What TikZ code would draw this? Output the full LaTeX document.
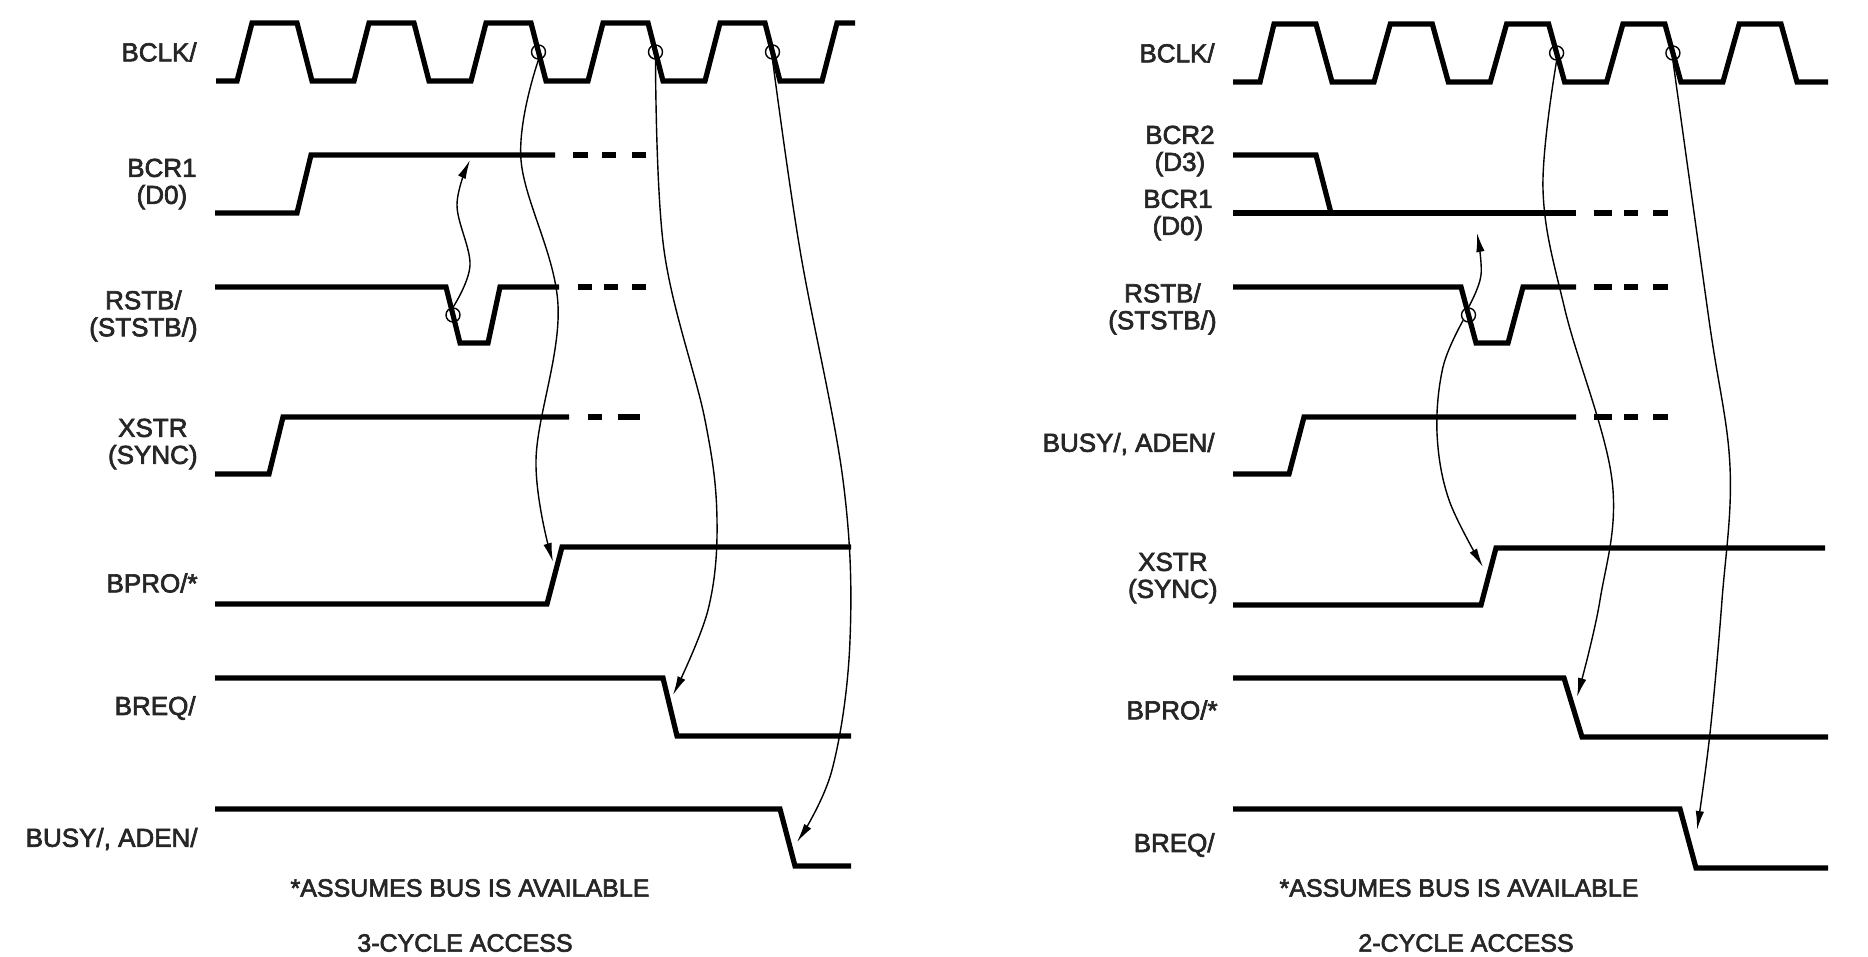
\documentclass[tikz,border=0pt]{standalone}
\usepackage{fontspec}
\newfontfamily\labfont[FakeBold=2.6]{Liberation Sans}
\usetikzlibrary{arrows.meta}
\begin{document}
\begin{tikzpicture}[x=0.5pt,y=-0.5pt,
  sig/.style={line width=2.6pt, line join=miter, line cap=butt},
  arr/.style={line width=0.7pt, -{Latex[length=9.5pt,width=4.2pt]}},
  ring/.style={circle, draw, line width=0.7pt, minimum size=7pt, inner sep=0pt},
  lab/.style={anchor=east, align=center, font=\labfont\fontsize{13}{13.5}\selectfont, text=black!85, inner sep=0pt},
  note/.style={font=\labfont\fontsize{12.5}{14}\selectfont, text=black!85, inner sep=0pt}]
\useasboundingbox (0,0) rectangle (1868,957);

% ---------------- left: 3-cycle access ----------------
\node[lab] (lclk) at (197,52) {BCLK/};
\node[lab] (lbcr) at (197,184) {BCR1\\(D0)};
\node[lab] (lrst) at (198,316) {RSTB/\\(STSTB/)};
\node[lab] (lxst) at (198,444) {XSTR\\(SYNC)};
\node[lab] (lbpr) at (198,583) {BPRO/*};
\node[lab] (lbrq) at (196,708) {BREQ/};
\node[lab] (lbsy) at (198,839) {BUSY/, ADEN/};

\draw[sig] (216,81) -- (237,81) -- (252,23)
  \foreach \k in {0,...,4}{ -- ({252+117*\k+45},23) -- ({252+117*\k+60},81) -- ({252+117*\k+102},81) -- ({252+117*\k+117},23) } -- (855,23);

\draw[sig] (215,213) -- (297,213) -- (311,155) -- (555,155);
\foreach \a/\b in {573/588,602/616,632/646} \draw[sig] (\a,155) -- (\b,155);
\draw[sig] (215,287) -- (446,287) -- (460,343) -- (488,343) -- (500,287) -- (559,287);
\foreach \a/\b in {578/592,604/618,632/646} \draw[sig] (\a,287) -- (\b,287);
\draw[sig] (215,474) -- (269,474) -- (283,417) -- (569,417);
\foreach \a/\b in {588/602,618/640} \draw[sig] (\a,417) -- (\b,417);
\draw[sig] (215,604) -- (547,604) -- (562,547) -- (851,547);
\draw[sig] (215,678) -- (663,678) -- (677,736) -- (851,736);
\draw[sig] (215,809) -- (780,809) -- (795,866) -- (851,866);

\node[ring] (lc1) at (538.5,52) {};
\node[ring] (lc2) at (655.5,52) {};
\node[ring] (lc3) at (772.5,52) {};
\node[ring] (lrc) at (453,315) {};

\coordinate (ltA) at (470,160);
\coordinate (ltB) at (553,562);
\coordinate (ltC) at (673,695);
\coordinate (ltD) at (797,842);

\draw[arr] plot[smooth, tension=0.6] coordinates {(lrc.north) (470,265) (457,205) (ltA)};
\draw[arr] plot[smooth, tension=0.6] coordinates {(lc1.south) (521,160) (558,305) (536,460) (ltB)};
\draw[arr] plot[smooth, tension=0.6] coordinates {(lc2.south) (664,250) (705,420) (717,520) (708,610) (ltC)};
\draw[arr] plot[smooth, tension=0.6] coordinates {(lc3.south) (800,250) (843,480) (850,640) (832,770) (ltD)};

\node[note] (lnote) at (470,888) {*ASSUMES BUS IS AVAILABLE};
\node[note] (ltitle) at (465,943) {3-CYCLE ACCESS};

% ---------------- right: 2-cycle access ----------------
\node[lab] (rclk) at (1215,53) {BCLK/};
\node[lab] (rbc2) at (1215,151) {BCR2\\(D3)};
\node[lab] (rbc1) at (1213,215) {BCR1\\(D0)};
\node[lab] (rrst) at (1217,309) {RSTB/\\(STSTB/)};
\node[lab] (rbsy) at (1215,444) {BUSY/, ADEN/};
\node[lab] (rxst) at (1218,578) {XSTR\\(SYNC)};
\node[lab] (rbpr) at (1218,710) {BPRO/*};
\node[lab] (rbrq) at (1215,845) {BREQ/};

\draw[sig] (1233,82) -- (1260,82) -- (1274,24)
  \foreach \k in {0,...,3}{ -- ({1274+116.3*\k+42},24) -- ({1274+116.3*\k+58},82) -- ({1274+116.3*\k+100},82) -- ({1274+116.3*\k+116.3},24) } -- (1781,24) -- (1797,82) -- (1828,82);

\draw[sig] (1233,155) -- (1316,155) -- (1331,213);
\draw[sig] (1233,213) -- (1576,213);
\foreach \a/\b in {1594/1612,1624/1638,1653/1668} \draw[sig] (\a,213) -- (\b,213);
\draw[sig] (1233,287) -- (1461,287) -- (1476,343) -- (1508,343) -- (1523,287) -- (1576,287);
\foreach \a/\b in {1594/1612,1624/1638,1653/1668} \draw[sig] (\a,287) -- (\b,287);
\draw[sig] (1233,474) -- (1289,474) -- (1304,417) -- (1576,417);
\foreach \a/\b in {1594/1612,1624/1638,1653/1668} \draw[sig] (\a,417) -- (\b,417);
\draw[sig] (1233,605) -- (1481,605) -- (1496,548) -- (1825,548);
\draw[sig] (1233,678) -- (1564,678) -- (1582,737) -- (1828,737);
\draw[sig] (1233,809) -- (1680,809) -- (1696,868) -- (1828,868);

\node[ring] (rc1) at (1556.6,53) {};
\node[ring] (rc2) at (1672.9,53) {};
\node[ring] (rrc) at (1468.5,315) {};

\coordinate (rtE) at (1477,233);
\coordinate (rtF) at (1483,567);
\coordinate (rtG) at (1577,697);
\coordinate (rtH) at (1697,830);

\draw[arr] plot[smooth, tension=0.6] coordinates {(rrc.north) (1481,275) (rtE)};
\draw[arr] plot[smooth, tension=0.6] coordinates {(rrc.south west) (1443,367) (1437,433) (1449,500) (rtF)};
\draw[arr] plot[smooth, tension=0.6] coordinates {(rc1.south) (1543,190) (1565,310) (1612,480) (1600,600) (rtG)};
\draw[arr] plot[smooth, tension=0.6] coordinates {(rc2.south) (1709,320) (1730,467) (1722,600) (1710,733) (rtH)};

\node[note] (rnote) at (1459,888) {*ASSUMES BUS IS AVAILABLE};
\node[note] (rtitle) at (1466,943) {2-CYCLE ACCESS};
\end{tikzpicture}
\end{document}
